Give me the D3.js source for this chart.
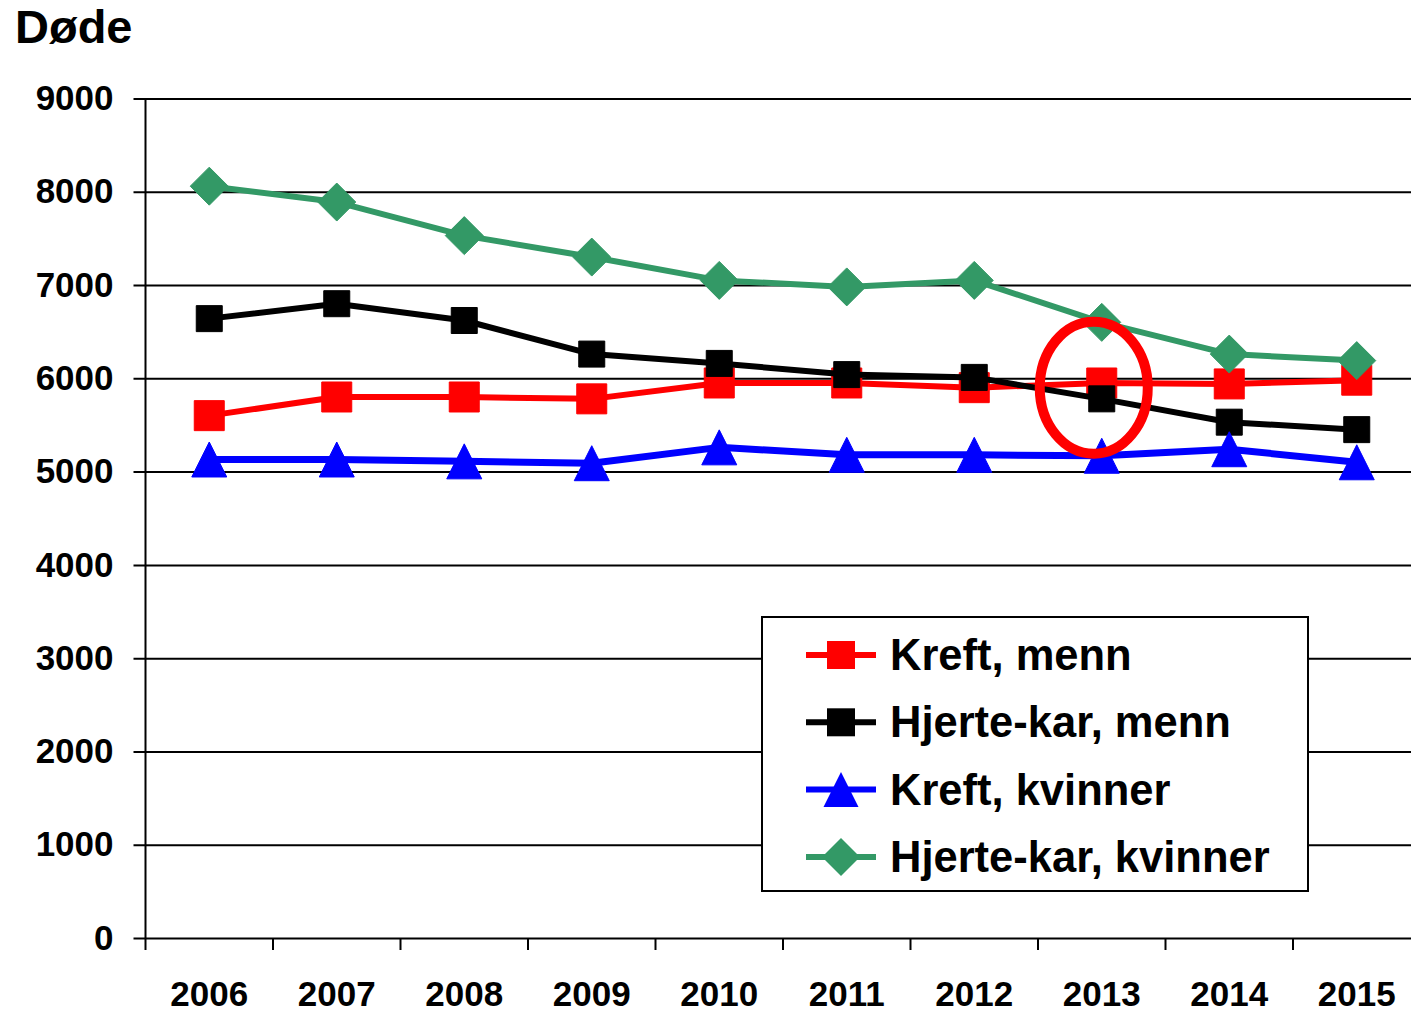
<!DOCTYPE html>
<html>
<head>
<meta charset="utf-8">
<script src="https://cdn.jsdelivr.net/npm/d3@7"></script>
<style>
  body { margin: 0; background: #fff; }
  svg { display: block; font-family: "Liberation Sans", Arial, sans-serif; font-weight: bold; }
</style>
</head>
<body>
<svg id="chart" width="1411" height="1011"></svg>
<script>
const years = ['2006', '2007', '2008', '2009', '2010', '2011', '2012', '2013', '2014', '2015']
const kreftMenn = [5600, 5800, 5800, 5780, 5950, 5950, 5900, 5950, 5940, 5980]
const hjerteMenn = [6640, 6800, 6620, 6260, 6160, 6040, 6010, 5780, 5530, 5450]
const kreftKvinner = [5130, 5130, 5110, 5090, 5260, 5180, 5180, 5170, 5240, 5100]
const hjerteKvinner = [8060, 7890, 7530, 7300, 7050, 6980, 7050, 6600, 6260, 6190]
const yTicks = [0, 1000, 2000, 3000, 4000, 5000, 6000, 7000, 8000, 9000]
const seriesNames = ['Kreft, menn', 'Hjerte-kar, menn', 'Kreft, kvinner', 'Hjerte-kar, kvinner']

const svg = d3.select('#chart')
const W = +svg.attr('width')

const plotLeft = 145.5, plotRight = 1420.5, plotTop = 98.5, plotBottom = 938

const xScale = d3.scaleBand().domain(years).range([plotLeft, plotRight])
const yScale = d3.scaleLinear().domain([0, 9000]).range([plotBottom, plotTop])
const cx = d => xScale(d) + xScale.bandwidth() / 2

// series: colour + marker
const series = [
  { name: seriesNames[0], values: kreftMenn, color: '#ff0000', marker: 'square', size: 30 },
  { name: seriesNames[1], values: hjerteMenn, color: '#000000', marker: 'square', size: 26 },
  { name: seriesNames[2], values: kreftKvinner, color: '#0000ff', marker: 'triangle', size: 35 },
  { name: seriesNames[3], values: hjerteKvinner, color: '#339966', marker: 'diamond', size: 38 }
]

const markerPath = (type, s) => {
  const h = s / 2
  if (type === 'triangle') return `M0,${-h}L${h},${h}L${-h},${h}Z`
  if (type === 'diamond') return `M0,${-h}L${h},0L0,${h}L${-h},0Z`
  return `M${-h},${-h}H${h}V${h}H${-h}Z`
}

// title
svg.append('text')
  .attr('x', 15)
  .attr('y', 43)
  .style('font-size', '47px')
  .text('Døde')

// y axis + grid
const yAxis = svg.append('g')
  .attr('transform', `translate(${plotLeft}, 0)`)
  .call(d3.axisLeft(yScale).tickValues(yTicks).tickSize(12).tickPadding(20).tickFormat(d3.format('d')))

yAxis.select('path.domain').remove()
yAxis.selectAll('.tick line')
  .attr('x1', W - plotLeft)
  .attr('stroke', '#000')
  .attr('stroke-width', 2)
yAxis.selectAll('.tick text')
  .attr('fill', '#000')
  .style('font-size', '35px')
  .style('font-family', '"Liberation Sans", Arial, sans-serif')
  .style('font-weight', 'bold')

// vertical axis line
svg.append('line')
  .attr('x1', plotLeft).attr('x2', plotLeft)
  .attr('y1', plotTop).attr('y2', plotBottom)
  .attr('stroke', '#000')
  .attr('stroke-width', 2)

// x axis labels
const xAxis = svg.append('g')
  .attr('transform', `translate(0, ${plotBottom})`)
  .call(d3.axisBottom(xScale).tickSize(0).tickPadding(43))

xAxis.select('path.domain').remove()
xAxis.selectAll('.tick text')
  .attr('fill', '#000')
  .style('font-size', '35px')
  .style('font-family', '"Liberation Sans", Arial, sans-serif')
  .style('font-weight', 'bold')

// category boundary ticks
const bounds = years.map(d => xScale(d)).concat([plotRight])
svg.append('g')
  .selectAll('line')
  .data(bounds)
  .enter()
  .append('line')
  .attr('x1', d => d).attr('x2', d => d)
  .attr('y1', plotBottom).attr('y2', plotBottom + 12)
  .attr('stroke', '#000')
  .attr('stroke-width', 2)

// lines + markers
const line = d3.line()
  .x((d, i) => cx(years[i]))
  .y(d => yScale(d))

series.forEach(s => {
  const g = svg.append('g')
  g.append('path')
    .datum(s.values)
    .attr('d', line)
    .attr('fill', 'none')
    .attr('stroke', s.color)
    .attr('stroke-width', s.marker === 'triangle' ? 7 : 6)
    .attr('stroke-linejoin', 'round')
  g.selectAll('.mk')
    .data(s.values)
    .enter()
    .append('path')
    .attr('class', 'mk')
    .attr('transform', (d, i) => `translate(${cx(years[i])}, ${yScale(d)})`)
    .attr('d', markerPath(s.marker, s.size))
    .attr('fill', s.color)
    .attr('stroke', s.color)
    .attr('stroke-width', 1)
    .attr('stroke-linejoin', 'round')
})

// red ring around 2013
svg.append('ellipse')
  .attr('cx', cx('2013') - 8)
  .attr('cy', yScale(5900))
  .attr('rx', 54)
  .attr('ry', 66)
  .attr('fill', 'none')
  .attr('stroke', '#ff0000')
  .attr('stroke-width', 10)

// legend
const legend = svg.append('g')
legend.append('rect')
  .attr('x', 762).attr('y', 617)
  .attr('width', 546).attr('height', 274)
  .attr('fill', '#fff')
  .attr('stroke', '#000')
  .attr('stroke-width', 2)

const items = legend.selectAll('.item')
  .data(series)
  .enter()
  .append('g')
  .attr('class', 'item')
  .attr('transform', (d, i) => `translate(0, ${655 + i * 67.3})`)

items.append('line')
  .attr('x1', 806).attr('x2', 876)
  .attr('y1', 0).attr('y2', 0)
  .attr('stroke', d => d.color)
  .attr('stroke-width', 6)

items.append('path')
  .attr('transform', 'translate(841, 0)')
  .attr('d', d => markerPath(d.marker, d.marker === 'square' ? 28 : d.size))
  .attr('fill', d => d.color)

items.append('text')
  .attr('x', 890)
  .attr('y', 15)
  .style('font-size', '43.5px')
  .text(d => d.name)
</script>
</body>
</html>
